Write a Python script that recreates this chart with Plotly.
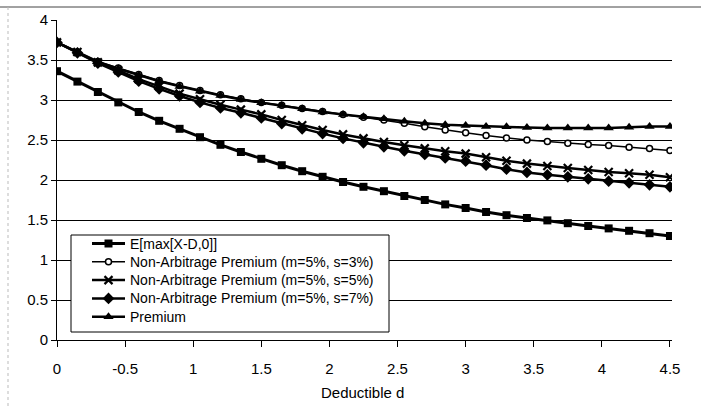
import plotly.graph_objects as go

# Deductible grid
deductible = [0, 0.15, 0.3, 0.45, 0.6, 0.75, 0.9, 1.05, 1.2, 1.35, 1.5,
              1.65, 1.8, 1.95, 2.1, 2.25, 2.4, 2.55, 2.7, 2.85, 3.0,
              3.15, 3.3, 3.45, 3.6, 3.75, 3.9, 4.05, 4.2, 4.35, 4.5]

expected_excess = [3.36, 3.23, 3.10, 2.97, 2.85, 2.74, 2.64, 2.535, 2.44, 2.35, 2.265,
                   2.185, 2.11, 2.04, 1.975, 1.915, 1.86, 1.80, 1.75, 1.695, 1.65,
                   1.60, 1.56, 1.525, 1.495, 1.46, 1.425, 1.395, 1.365, 1.335, 1.30]

na_s3 = [3.72, 3.60, 3.48, 3.40, 3.32, 3.245, 3.18, 3.12, 3.065, 3.015, 2.97,
         2.935, 2.895, 2.855, 2.82, 2.785, 2.75, 2.71, 2.665, 2.625, 2.59,
         2.555, 2.525, 2.50, 2.48, 2.46, 2.445, 2.43, 2.41, 2.395, 2.37]

na_s5 = [3.72, 3.60, 3.47, 3.37, 3.26, 3.17, 3.08, 3.01, 2.94, 2.88, 2.82,
         2.75, 2.685, 2.625, 2.57, 2.52, 2.475, 2.435, 2.395, 2.36, 2.33,
         2.285, 2.24, 2.205, 2.175, 2.15, 2.125, 2.10, 2.085, 2.065, 2.035]

na_s7 = [3.72, 3.59, 3.46, 3.35, 3.235, 3.14, 3.05, 2.97, 2.90, 2.84, 2.775,
         2.705, 2.64, 2.58, 2.52, 2.465, 2.415, 2.365, 2.32, 2.275, 2.235,
         2.185, 2.135, 2.095, 2.065, 2.04, 2.015, 1.985, 1.965, 1.94, 1.915]

premium = [3.72, 3.60, 3.48, 3.39, 3.31, 3.235, 3.17, 3.11, 3.055, 3.005, 2.965,
           2.93, 2.89, 2.85, 2.82, 2.79, 2.765, 2.735, 2.71, 2.69, 2.68,
           2.67, 2.665, 2.655, 2.65, 2.65, 2.65, 2.65, 2.66, 2.67, 2.67]

series_names = ["E[max[X-D,0]]",
                "Non-Arbitrage Premium (m=5%, s=3%)",
                "Non-Arbitrage Premium (m=5%, s=5%)",
                "Non-Arbitrage Premium (m=5%, s=7%)",
                "Premium"]

x_tick_vals = [0, 0.5, 1, 1.5, 2, 2.5, 3, 3.5, 4, 4.5]
x_tick_text = ["0", "-0.5", "1", "1.5", "2", "2.5", "3", "3.5", "4", "4.5"]
y_tick_vals = [0, 0.5, 1, 1.5, 2, 2.5, 3, 3.5, 4]
y_tick_text = ["0", "0.5", "1", "1.5", "2", "2.5", "3", "3.5", "4"]

FONT = "Liberation Sans, Arial, Helvetica, sans-serif"

styles = [
    (dict(symbol="square", size=8, color="black"), 3),
    (dict(symbol="circle", size=6, color="white", line=dict(color="black", width=1.5)), 1.5),
    (dict(symbol="x-thin", size=8, color="black", line=dict(color="black", width=2.2)), 2.5),
    (dict(symbol="diamond", size=9, color="black"), 2.5),
    (dict(symbol="triangle-up", size=9, color="black"), 2.5),
]
values = [expected_excess, na_s3, na_s5, na_s7, premium]

fig = go.Figure()
for name, vals, (marker, lw) in zip(series_names, values, styles):
    fig.add_trace(go.Scatter(
        x=deductible, y=vals, name=name, mode="lines+markers",
        line=dict(color="black", width=lw), marker=marker, showlegend=False,
    ))

# Page geometry (pixels)
W, H = 701, 408
L, R, T, B = 57, 29, 20, 68
pw, ph = W - L - R, H - T - B


def px(xpix):
    return (xpix - L) / pw


def py(ypix):
    return (H - B - ypix) / ph


# Legend drawn on an overlay subplot whose axes run in page pixels
box_l, box_r, box_t, box_b = 71, 389, 235, 332
row0, row_step = 243.5, 18.3
sym_l, sym_r, text_x = 92, 125, 128

fig.add_trace(go.Scatter(
    x=[box_l, box_r, box_r, box_l, box_l], y=[box_t, box_t, box_b, box_b, box_t],
    xaxis="x2", yaxis="y2", mode="lines", fill="toself", fillcolor="white",
    line=dict(color="black", width=1), showlegend=False, hoverinfo="skip",
))
annotations = []
for k, (name, (marker, lw)) in enumerate(zip(series_names, styles)):
    yy = row0 + k * row_step
    fig.add_trace(go.Scatter(
        x=[sym_l, sym_r], y=[yy, yy], xaxis="x2", yaxis="y2", mode="lines",
        line=dict(color="black", width=lw), showlegend=False, hoverinfo="skip",
    ))
    fig.add_trace(go.Scatter(
        x=[(sym_l + sym_r) / 2], y=[yy], xaxis="x2", yaxis="y2", mode="markers",
        marker=marker, showlegend=False, hoverinfo="skip",
    ))
    annotations.append(dict(
        text=name, xref="x2", yref="y2", x=text_x, y=yy, xanchor="left", yanchor="middle",
        showarrow=False, font=dict(family=FONT, size=14, color="black"),
    ))

# x-axis title
annotations.append(dict(
    text="Deductible d", xref="paper", yref="paper", x=px(362), y=py(392),
    xanchor="center", yanchor="middle", showarrow=False,
    font=dict(family=FONT, size=15, color="black"),
))

shapes = [
    # chart frame (top and left)
    dict(type="line", xref="paper", yref="paper", x0=px(0), x1=px(701), y0=py(7), y1=py(7),
         line=dict(color="#444444", width=1)),
    dict(type="line", xref="paper", yref="paper", x0=px(8), x1=px(8), y0=py(7), y1=py(408),
         line=dict(color="#bbbbbb", width=1, dash="dot")),
]

fig.update_layout(
    width=W, height=H,
    margin=dict(l=L, r=R, t=T, b=B),
    paper_bgcolor="white", plot_bgcolor="white",
    font=dict(family=FONT, size=15, color="black"),
    showlegend=False,
    shapes=shapes,
    annotations=annotations,
    xaxis=dict(
        range=[0, 4.515], tickvals=x_tick_vals, ticktext=x_tick_text,
        showgrid=False, zeroline=False, showline=True, linecolor="black", linewidth=1,
        ticks="outside", ticklen=6, tickcolor="black", ticklabelstandoff=9,
        tickfont=dict(family=FONT, size=15, color="black"),
    ),
    yaxis=dict(
        range=[0, 4], tickvals=y_tick_vals, ticktext=y_tick_text,
        showgrid=True, gridcolor="black", gridwidth=1, zeroline=False,
        showline=True, linecolor="black", linewidth=1,
        ticks="outside", ticklen=5, tickcolor="black",
        tickfont=dict(family=FONT, size=15, color="black"),
    ),
    xaxis2=dict(overlaying="x", anchor="y2", range=[L, W - R], visible=False),
    yaxis2=dict(overlaying="y", anchor="x2", range=[H - B, T], visible=False),
)

fig.write_html("out.html")
